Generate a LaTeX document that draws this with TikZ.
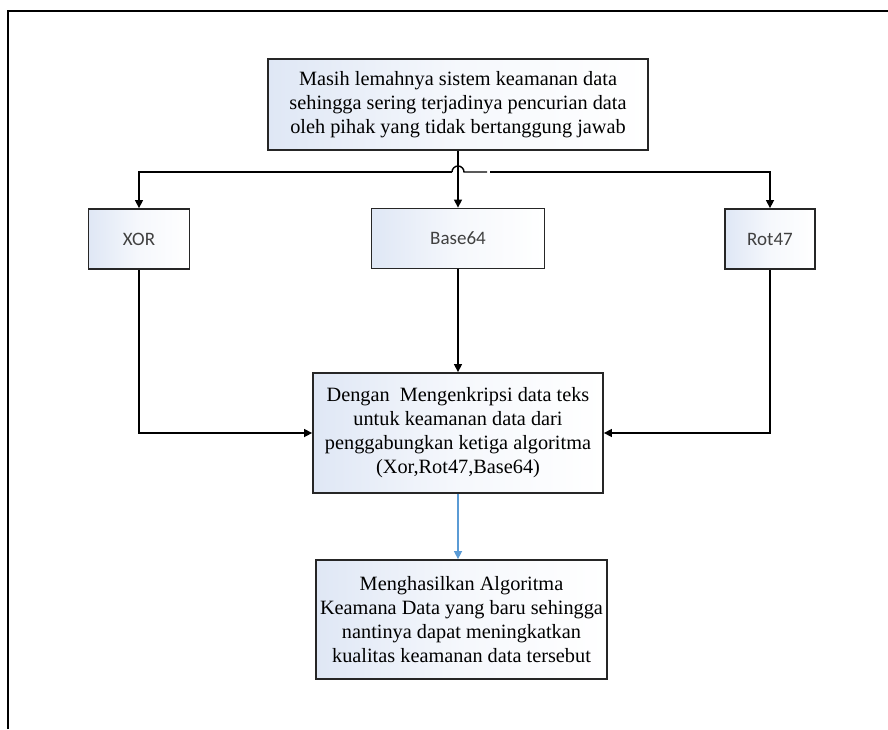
\documentclass[tikz,border=0pt]{standalone}
\usepackage{fontspec}
\setmainfont{Liberation Serif}
\newfontfamily\labelfont{Carlito}
\usetikzlibrary{arrows.meta}
\definecolor{boxtint}{HTML}{DFE7F5}
\definecolor{boxline}{HTML}{262626}
\definecolor{flowblue}{HTML}{5B9BD5}
\tikzset{
  flowbox/.style={draw=boxline, line width=1.8pt, inner sep=0pt, align=center,
    left color=boxtint, right color=white, middle color=white!70!boxtint,
    font=\fontsize{20.3}{24}\selectfont},
  algobox/.style={flowbox, font=\labelfont\fontsize{19}{22}\selectfont, text=black!75},
  link/.style={line width=1.4pt, draw=black},
  arr/.style={link, -{Triangle[length=8pt,width=8pt]}},
  bluearr/.style={line width=1.4pt, draw=flowblue, -{Triangle[length=8pt,width=8pt]}, color=flowblue},
}
\begin{document}
\begin{tikzpicture}[x=1pt, y=-1pt]
  \useasboundingbox (0,0) rectangle (888,729);
  % page frame (top and left edges)
  \draw[line width=2.4pt] (8,729) -- (8,11) -- (888,11);

  % boxes
  \node[flowbox, minimum width=380pt, minimum height=91pt] (top) at (458,104.5)
    {Masih lemahnya sistem keamanan data\\sehingga sering terjadinya pencurian data\\oleh pihak yang tidak bertanggung jawab};
  \node[algobox, minimum width=101pt, minimum height=60pt] (xor) at (139,239) {XOR};
  \node[algobox, minimum width=173pt, minimum height=60pt] (b64) at (458,238.5) {Base64};
  \node[algobox, minimum width=90pt, minimum height=60pt] (rot) at (770,239) {Rot47};
  \node[flowbox, minimum width=290pt, minimum height=120pt] (mid) at (458,433)
    {Dengan\ \ Mengenkripsi data teks\\untuk keamanan data dari\\penggabungkan ketiga algoritma\\(Xor,Rot47,Base64)};
  \node[flowbox, minimum width=291pt, minimum height=119pt] (res) at (461.5,619.5)
    {Menghasilkan Algoritma\\Keamana Data yang baru sehingga\\nantinya dapat meningkatkan\\kualitas keamanan data tersebut};

  % junction points on the distribution line
  \coordinate (hopL) at (452,172);
  \coordinate (gapL) at (487,172);
  \coordinate (gapR) at (490,172);

  % connectors
  \draw[arr] (top.south) -- (b64.north);
  \draw[arr] (hopL) -| (xor.north);
  \draw[link] (hopL) arc[start angle=180, end angle=0, radius=6pt] -- (gapL);
  \draw[arr] (gapR) -| (rot.north);
  \draw[arr] (b64.south) -- (mid.north);
  \draw[arr] (xor.south) |- (mid.west);
  \draw[arr] (rot.south) |- (mid.east);
  \draw[bluearr] (mid.south) -- (mid.south |- res.north);
\end{tikzpicture}
\end{document}
